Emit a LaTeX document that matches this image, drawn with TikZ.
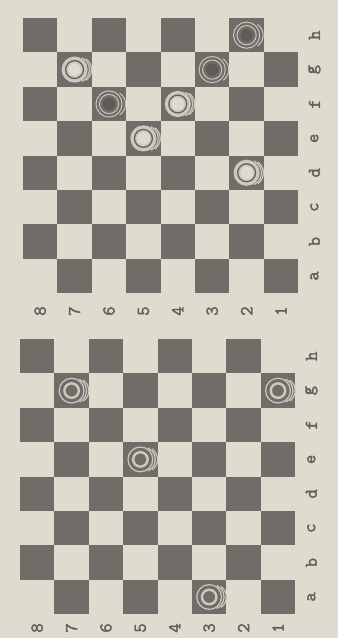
\documentclass[tikz,border=0pt]{standalone}
\usepackage{amsmath}
\usepackage{fontspec}
\newfontfamily\lblfont[FakeBold=2.2]{Latin Modern Mono}
\definecolor{paper}{RGB}{224,219,207}
\definecolor{sq}{RGB}{112,108,104}
\definecolor{ink}{RGB}{100,96,92}
\definecolor{rim}{RGB}{205,201,191}

\tikzset{
  lbl/.style={font=\fontsize{15}{15}\selectfont\lblfont, text=ink, rotate=90, inner sep=0pt},
  ring/.style={draw=rim, line width=#1},
}

% 白子（实心）与白子（空心）、黑子
\newcommand{\wfull}[1]{%
  \draw[ring=1pt] (#1) ++(0.11,0) ++(-55:0.38) arc (-55:55:0.38);
  \draw[ring=1pt] (#1) ++(0.055,0) ++(-65:0.38) arc (-65:65:0.38);
  \fill[rim] (#1) circle (0.38);
  \draw[ink, line width=1.1pt] (#1) circle (0.26);
  \fill[paper] (#1) circle (0.18);}
\newcommand{\wring}[1]{%
  \draw[ring=1pt] (#1) ++(0.13,0) ++(-55:0.37) arc (-55:55:0.37);
  \draw[ring=1pt] (#1) ++(0.065,0) ++(-65:0.37) arc (-65:65:0.37);
  \draw[ring=1pt] (#1) circle (0.36);
  \draw[ring=2pt] (#1) circle (0.21);}
\newcommand{\bpiece}[1]{%
  \draw[ring=0.8pt] (#1) ++(0.1,0) ++(-55:0.38) arc (-55:55:0.38);
  \draw[ring=0.8pt] (#1) circle (0.38);
  \draw[ring=0.8pt] (#1) circle (0.28);
  \fill[sq!85!black] (#1) circle (0.18);}

\begin{document}
\begin{tikzpicture}[x=1cm, y=-1cm]
  % 底色与边界
  \fill[paper] (0,0) rectangle (9.826,18.547);
  \useasboundingbox (0,0) rectangle (9.826,18.547);

  % 上方棋盘
  \begin{scope}[shift={(0.669,0.523)}]
    \foreach \i in {0,...,7} \foreach \j in {0,...,7} {
      \pgfmathparse{int(mod(\i+\j,2))}
      \ifnum\pgfmathresult=0 \fill[sq] (\i,\j) rectangle ++(1,1); \fi
    }
    \foreach \n [count=\i from 0] in {8,...,1}
      \node[lbl] (tr\n) at (\i+0.5,8.52) {\n};
    \foreach \l [count=\j from 0] in {h,g,f,e,d,c,b,a}
      \node[lbl] (tf\l) at (8.47,\j+0.5) {\l};
    % 棋子
    \bpiece{6.5,0.5}
    \wfull{1.5,1.5}
    \bpiece{5.5,1.5}
    \bpiece{2.5,2.5}
    \wfull{4.5,2.5}
    \wfull{3.5,3.5}
    \wfull{6.5,4.5}
  \end{scope}

  % 下方棋盘
  \begin{scope}[shift={(0.581,9.855)}]
    \foreach \i in {0,...,7} \foreach \j in {0,...,7} {
      \pgfmathparse{int(mod(\i+\j,2))}
      \ifnum\pgfmathresult=0 \fill[sq] (\i,\j) rectangle ++(1,1); \fi
    }
    \foreach \n [count=\i from 0] in {8,...,1}
      \node[lbl] (br\n) at (\i+0.5,8.4) {\n};
    \foreach \l [count=\j from 0] in {h,g,f,e,d,c,b,a}
      \node[lbl] (bf\l) at (8.47,\j+0.5) {\l};
    % 棋子
    \wring{1.5,1.5}
    \wring{7.5,1.5}
    \wring{3.5,3.5}
    \wring{5.5,7.5}
  \end{scope}
\end{tikzpicture}
\end{document}
